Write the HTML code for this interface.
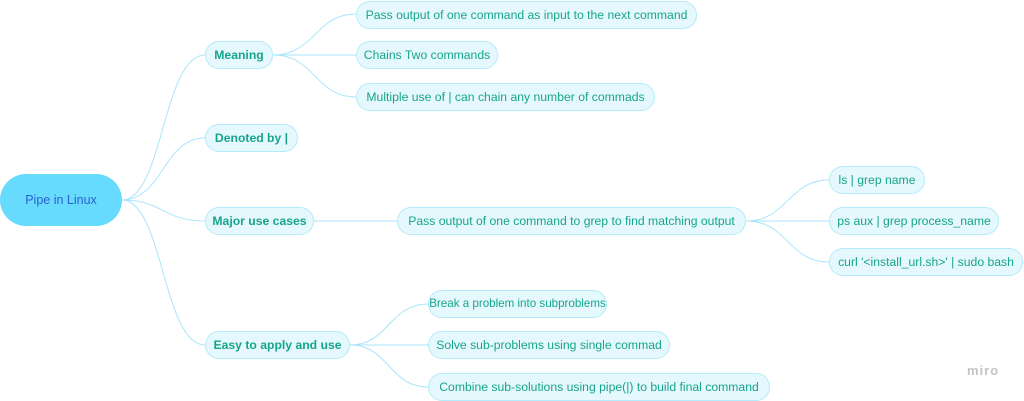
<!DOCTYPE html>
<html><head><meta charset="utf-8"><style>
body{margin:0;width:1024px;height:400px;background:#fff;position:relative;overflow:hidden;font-family:"Liberation Sans",sans-serif}
.n{position:absolute;box-sizing:border-box;height:28px;line-height:26px;border:1px solid #b3ebfa;background:#e5f8fd;border-radius:14px;color:#16a58c;font-size:12.2px;padding:0;text-align:center;white-space:nowrap}
.b{font-weight:bold}
svg{position:absolute;left:0;top:0}
</style></head><body>
<svg width="1024" height="400" fill="none" stroke="#a9e6fb" stroke-width="1">
<path d="M122 200 C163 200,163 55,205 55"/>
<path d="M122 200 C163 200,163 138,205 138"/>
<path d="M122 200 C163 200,163 221,205 221"/>
<path d="M122 200 C163 200,163 345,205 345"/>
<path d="M273 55 C315 55,315 14,356 14"/>
<path d="M273 55 L356 55"/>
<path d="M273 55 C315 55,315 97,356 97"/>
<path d="M314 221 L397 221"/>
<path d="M746 221 C788 221,788 180,829 180"/>
<path d="M746 221 L829 221"/>
<path d="M746 221 C788 221,788 262,829 262"/>
<path d="M350 345 C389 345,389 304,428 304"/>
<path d="M350 345 L428 345"/>
<path d="M350 345 C389 345,389 387,428 387"/>
</svg>
<div style="position:absolute;left:0;top:174px;width:122px;height:52px;border-radius:26px;background:#66dbfe;color:#2b5fd0;font-size:12.5px;line-height:52px;text-align:center">Pipe in Linux</div>
<div class="n b" style="left:205px;top:41px;width:68px">Meaning</div>
<div class="n b" style="left:205px;top:124px;width:93px">Denoted by |</div>
<div class="n b" style="left:205px;top:207px;width:109px">Major use cases</div>
<div class="n b" style="left:205px;top:331px;width:145px">Easy to apply and use</div>
<div class="n" style="left:356px;top:1px;width:341px">Pass output of one command as input to the next command</div>
<div class="n" style="left:356px;top:41px;width:142px">Chains Two commands</div>
<div class="n" style="left:356px;top:83px;width:299px">Multiple use of | can chain any number of commads</div>
<div class="n" style="left:397px;top:207px;width:349px">Pass output of one command to grep to find matching output</div>
<div class="n" style="left:829px;top:166px;width:96px">ls | grep name</div>
<div class="n" style="left:829px;top:207px;width:170px">ps aux | grep process_name</div>
<div class="n" style="left:829px;top:248px;width:194px">curl '&lt;install_url.sh&gt;' | sudo bash</div>
<div class="n" style="left:428px;top:290px;width:179px;font-size:11.6px">Break a problem into subproblems</div>
<div class="n" style="left:428px;top:331px;width:242px">Solve sub-problems using single commad</div>
<div class="n" style="left:428px;top:373px;width:342px">Combine sub-solutions using pipe(|) to build final command</div>
<div style="position:absolute;left:967px;top:363px;color:#c4c4c4;font-size:13px;font-weight:bold;letter-spacing:1px">miro</div>
</body></html>
